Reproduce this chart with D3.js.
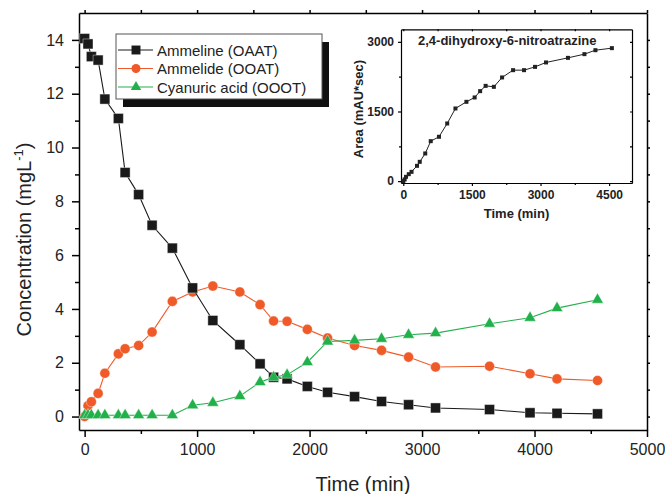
<!DOCTYPE html>
<html>
<head>
<meta charset="utf-8">
<script src="https://cdn.jsdelivr.net/npm/d3@7/dist/d3.min.js"></script>
<style>
  body { margin: 0; background: #fff; }
  svg { font-family: "Liberation Sans", Arial, sans-serif; }
</style>
</head>
<body>
<svg id="chart" width="665" height="494"></svg>
<script>
// sampling times (min), shared by all series
const times = [0, 30, 60, 120, 180, 300, 360, 480, 600, 780, 960, 1140, 1380, 1560,
  1680, 1800, 1980, 2160, 2400, 2640, 2880, 3120, 3600, 3960, 4200, 4560];

const ammeline = [14.05, 13.85, 13.38, 13.25, 11.8, 11.08, 9.07, 8.25, 7.11, 6.26, 4.78,
  3.57, 2.67, 1.96, 1.46, 1.40, 1.12, 0.90, 0.74, 0.56, 0.44, 0.32, 0.26, 0.14, 0.12, 0.10];
const ammelide = [0.0, 0.40, 0.55, 0.86, 1.61, 2.33, 2.52, 2.64, 3.14, 4.28, 4.63,
  4.85, 4.63, 4.16, 3.55, 3.54, 3.24, 2.92, 2.64, 2.46, 2.21, 1.84, 1.87, 1.59, 1.40, 1.34];
const cyanuric = [0.05, 0.05, 0.05, 0.05, 0.05, 0.05, 0.05, 0.05, 0.05, 0.05, 0.42,
  0.51, 0.76, 1.28, 1.46, 1.55, 2.02, 2.79, 2.83, 2.89, 3.04, 3.10, 3.45, 3.67, 4.03, 4.34];

// inset: 2,4-dihydroxy-6-nitroatrazine peak area
const insetArea = [0, 37, 93, 150, 200, 330, 416, 596, 861, 955, 1242, 1565, 1708, 1802,
  1938, 2052, 2031, 2233, 2390, 2390, 2461, 2556, 2655, 2735, 2820, 2864];

const xTicks = [0, 1000, 2000, 3000, 4000, 5000];
const xMinor = [500, 1500, 2500, 3500, 4500];
const yTicks = [0, 2, 4, 6, 8, 10, 12, 14];
const yMinor = [1, 3, 5, 7, 9, 11, 13];
const insetXTicks = [0, 1500, 3000, 4500];
const insetXMinor = [750, 2250, 3750];
const insetYTicks = [0, 1500, 3000];
const insetYMinor = [750, 2250];

const series = [
  {name: "Ammeline (OAAT)", values: ammeline, color: "#1a1a1a", symbol: d3.symbolSquare, size: 100},
  {name: "Ammelide (OOAT)", values: ammelide, color: "#f05a28", symbol: d3.symbolCircle, size: 80},
  {name: "Cyanuric acid (OOOT)", values: cyanuric, color: "#22b04b", symbol: d3.symbolTriangle, size: 60}
];
const drawOrder = [1, 0, 2];
const fmt = d3.format("d");

const svg = d3.select("#chart");
svg.append("rect").attr("width", 665).attr("height", 494).attr("fill", "#fff");

const box = {left: 79, right: 647, top: 13, bottom: 430};

const x = d3.scaleLinear().domain([-50, 5000]).range([box.left, box.right]);
const y = d3.scaleLinear().domain([-0.5, 15]).range([box.bottom, box.top]);

function styleAxis(g, w) {
  g.select(".domain").attr("stroke", "#000").attr("stroke-width", w);
  g.selectAll(".tick line").attr("stroke", "#000").attr("stroke-width", w);
}

// bottom axis
let gx = svg.append("g").attr("transform", "translate(0," + box.bottom + ")")
  .call(d3.axisBottom(x).tickValues(xTicks).tickFormat(fmt).tickSize(7).tickSizeOuter(0).tickPadding(7));
gx.selectAll("text").attr("font-size", 16).attr("fill", "#222");
styleAxis(gx, 1.5);
svg.append("g").attr("transform", "translate(0," + box.bottom + ")")
  .call(d3.axisBottom(x).tickValues(xMinor).tickSize(4).tickFormat(""))
  .call(g => { g.select(".domain").remove(); styleAxis(g, 1.5); });

// top axis
svg.append("g").attr("transform", "translate(0," + box.top + ")")
  .call(d3.axisTop(x).tickValues(xTicks.concat(xMinor)).tickSize(3).tickSizeOuter(0).tickFormat(""))
  .call(g => styleAxis(g, 1.5));

// left axis
let gy = svg.append("g").attr("transform", "translate(" + box.left + ",0)")
  .call(d3.axisLeft(y).tickValues(yTicks).tickFormat(fmt).tickSize(7).tickSizeOuter(0).tickPadding(8));
gy.selectAll("text").attr("font-size", 16).attr("fill", "#222");
styleAxis(gy, 1.5);
svg.append("g").attr("transform", "translate(" + box.left + ",0)")
  .call(d3.axisLeft(y).tickValues(yMinor).tickSize(4).tickFormat(""))
  .call(g => { g.select(".domain").remove(); styleAxis(g, 1.5); });

// right axis
svg.append("g").attr("transform", "translate(" + box.right + ",0)")
  .call(d3.axisRight(y).tickValues(yTicks.concat(yMinor)).tickSize(3).tickSizeOuter(0).tickFormat(""))
  .call(g => styleAxis(g, 1.5));

// axis titles
svg.append("text")
  .attr("x", (box.left + box.right) / 2).attr("y", 491)
  .attr("text-anchor", "middle").attr("font-size", 20).attr("fill", "#222")
  .text("Time (min)");

const ylab = svg.append("text")
  .attr("transform", "translate(31," + ((box.top + box.bottom) / 2 + 18) + ") rotate(-90)")
  .attr("text-anchor", "middle").attr("font-size", 20).attr("fill", "#222");
ylab.append("tspan").text("Concentration (mgL");
ylab.append("tspan").attr("font-size", 13).attr("dy", -8).text("-1");
ylab.append("tspan").attr("dy", 8).text(")");

// series
const line = d3.line().x((d, i) => x(times[i])).y(d => y(d));
drawOrder.forEach(k => {
  const s = series[k];
  svg.append("path").datum(s.values)
    .attr("fill", "none").attr("stroke", s.color).attr("stroke-width", 1.1)
    .attr("d", line);
  svg.append("g").selectAll("path").data(s.values).join("path")
    .attr("transform", (d, i) => "translate(" + x(times[i]) + "," + y(d) + ")")
    .attr("d", d3.symbol(s.symbol, s.size))
    .attr("fill", s.color).attr("stroke", "#fff").attr("stroke-width", 0.4);
});

// legend
const leg = {x: 116, y: 34, w: 206, h: 65};
svg.append("rect").attr("x", leg.x + 7).attr("y", leg.y + 8)
  .attr("width", leg.w).attr("height", leg.h).attr("fill", "#111");
svg.append("rect").attr("x", leg.x).attr("y", leg.y)
  .attr("width", leg.w).attr("height", leg.h)
  .attr("fill", "#fff").attr("stroke", "#555").attr("stroke-width", 1);
series.forEach((s, i) => {
  const ry = 50 + i * 18.5;
  svg.append("line").attr("x1", 118).attr("x2", 153).attr("y1", ry).attr("y2", ry)
    .attr("stroke", s.color).attr("stroke-width", 1.1);
  svg.append("path").attr("transform", "translate(136," + ry + ")")
    .attr("d", d3.symbol(s.symbol, s.size * 0.8)).attr("fill", s.color);
  svg.append("text").attr("x", 157).attr("y", ry + 5.5)
    .attr("font-size", 15).attr("fill", "#222").text(s.name);
});

// inset
const ib = {left: 401, right: 632, top: 29.3, bottom: 183};
const ix = d3.scaleLinear().domain([-50, 5000]).range([ib.left, ib.right]);
const iy = d3.scaleLinear().domain([-40, 3270]).range([ib.bottom, ib.top]);

svg.append("rect").attr("x", ib.left).attr("y", ib.top)
  .attr("width", ib.right - ib.left).attr("height", ib.bottom - ib.top)
  .attr("fill", "#fff");

let igx = svg.append("g").attr("transform", "translate(0," + ib.bottom + ")")
  .call(d3.axisBottom(ix).tickValues(insetXTicks).tickFormat(fmt).tickSize(3).tickSizeOuter(0).tickPadding(4));
igx.selectAll("text").attr("font-size", 12).attr("font-weight", "bold").attr("fill", "#222");
styleAxis(igx, 1.2);
svg.append("g").attr("transform", "translate(0," + ib.bottom + ")")
  .call(d3.axisBottom(ix).tickValues(insetXMinor).tickSize(2).tickFormat(""))
  .call(g => { g.select(".domain").remove(); styleAxis(g, 1.2); });
svg.append("g").attr("transform", "translate(0," + ib.top + ")")
  .call(d3.axisBottom(ix).tickValues(insetXTicks.concat(insetXMinor)).tickSize(2).tickSizeOuter(0).tickFormat(""))
  .call(g => styleAxis(g, 1.2));

let igy = svg.append("g").attr("transform", "translate(" + ib.left + ",0)")
  .call(d3.axisLeft(iy).tickValues(insetYTicks).tickFormat(fmt).tickSize(3).tickSizeOuter(0).tickPadding(4));
igy.selectAll("text").attr("font-size", 12).attr("font-weight", "bold").attr("fill", "#222");
styleAxis(igy, 1.2);
svg.append("g").attr("transform", "translate(" + ib.left + ",0)")
  .call(d3.axisLeft(iy).tickValues(insetYMinor).tickSize(2).tickFormat(""))
  .call(g => { g.select(".domain").remove(); styleAxis(g, 1.2); });
svg.append("g").attr("transform", "translate(" + ib.right + ",0)")
  .call(d3.axisLeft(iy).tickValues(insetYTicks.concat(insetYMinor)).tickSize(2).tickSizeOuter(0).tickFormat(""))
  .call(g => styleAxis(g, 1.2));

svg.append("text").attr("x", (ib.left + ib.right) / 2).attr("y", 218)
  .attr("text-anchor", "middle").attr("font-size", 13).attr("font-weight", "bold").attr("fill", "#222")
  .text("Time (min)");
svg.append("text").attr("transform", "translate(363,109) rotate(-90)")
  .attr("text-anchor", "middle").attr("font-size", 13).attr("font-weight", "bold").attr("fill", "#222")
  .text("Area (mAU*sec)");
svg.append("text").attr("x", 418).attr("y", 45)
  .attr("font-size", 13).attr("font-weight", "bold").attr("fill", "#222")
  .text("2,4-dihydroxy-6-nitroatrazine");

const iline = d3.line().x((d, i) => ix(times[i])).y(d => iy(d));
svg.append("path").datum(insetArea)
  .attr("fill", "none").attr("stroke", "#222").attr("stroke-width", 1)
  .attr("d", iline);
svg.append("g").selectAll("rect").data(insetArea).join("rect")
  .attr("x", (d, i) => ix(times[i]) - 2).attr("y", d => iy(d) - 2)
  .attr("width", 4).attr("height", 4).attr("fill", "#222");
</script>
</body>
</html>
